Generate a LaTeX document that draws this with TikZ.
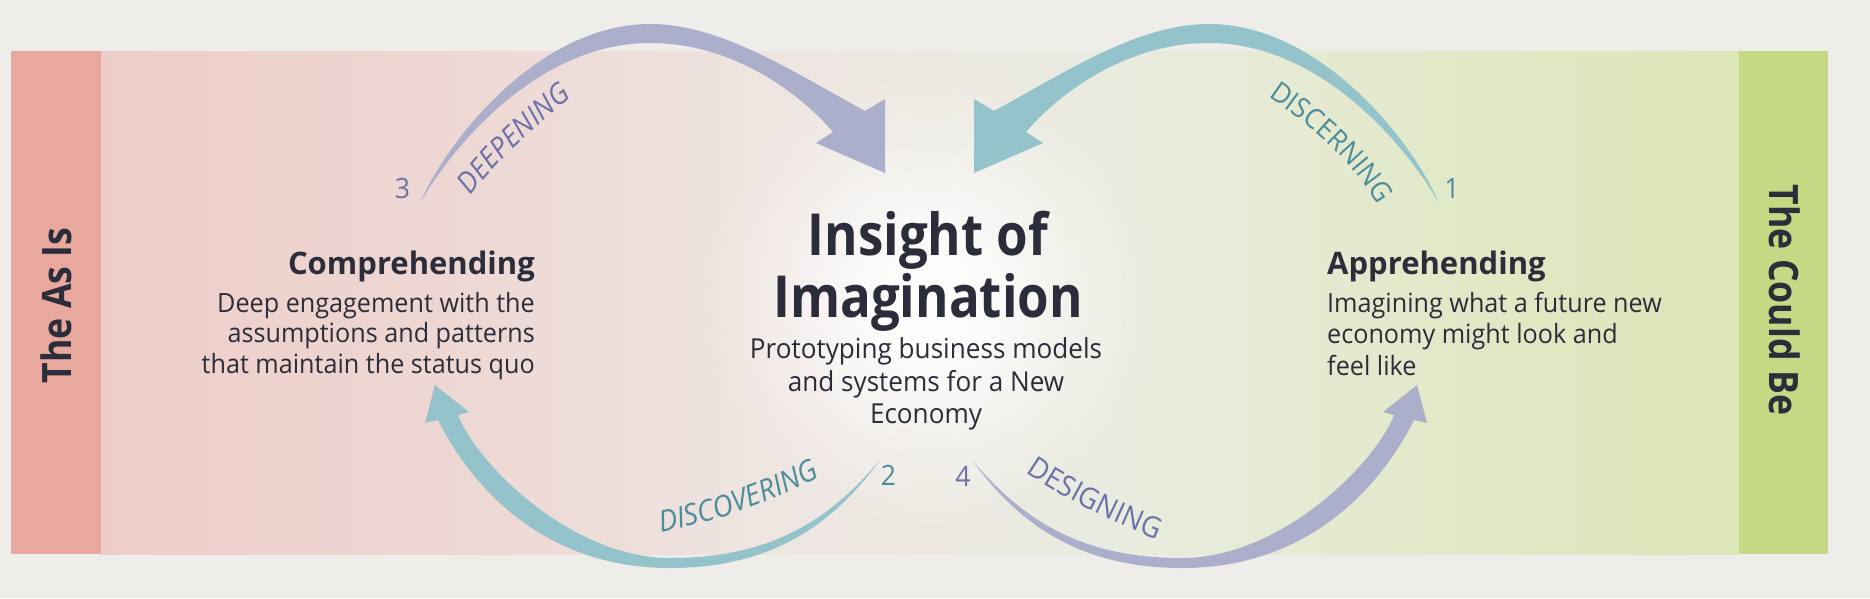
\documentclass[tikz,border=0pt]{standalone}
\usepackage{fontspec}
\setmainfont{Open Sans}[FakeStretch=0.95]
\newfontfamily\headfont{Open Sans}[FakeStretch=0.88]
\newfontfamily\titlefont{Open Sans}
\usetikzlibrary{decorations.text,fadings}

\definecolor{bgc}{HTML}{EEEDE9}
\definecolor{leftstrip}{HTML}{E8A89E}
\definecolor{rightstrip}{HTML}{C5D883}
\definecolor{bA}{HTML}{EECDC8}
\definecolor{bB}{HTML}{EED9D5}
\definecolor{bC}{HTML}{EEE6E2}
\definecolor{bD}{HTML}{EAEBE0}
\definecolor{bE}{HTML}{E3E9CB}
\definecolor{bF}{HTML}{DCE6B6}
\definecolor{purarrow}{HTML}{ABAFCC}
\definecolor{tealarrow}{HTML}{95C3CC}
\definecolor{purtext}{HTML}{6A72A9}
\definecolor{tealtext}{HTML}{4B8D9C}
\definecolor{darktext}{HTML}{2B2D3B}

\tikzfading[name=glowfade, inner color=transparent!0, outer color=transparent!100]

\newcommand\toparrowshape{%
  (420,203) .. controls (447.8,138.7) and (540,24) .. (650,24)
  .. controls (720,24) and (790,70) .. (865,111)
  -- (885,99) -- (885,173) -- (816,143) -- (833,132)
  .. controls (807.3,101.4) and (740,43) .. (650,43)
  .. controls (540,43) and (455,142.4) .. (420,203) -- cycle}
\newcommand\botarrowshape{%
  (880,460) .. controls (838.7,516.5) and (780,568) .. (670,568)
  .. controls (540,568) and (469.3,482.6) .. (438,420)
  -- (425,423) -- (435,385) -- (469,412) -- (458,415)
  .. controls (475.6,461.8) and (570,558) .. (670,558)
  .. controls (770,558) and (828.4,521.1) .. (880,460) -- cycle}
\newcommand\arclabelfont{\fontsize{29}{29}\selectfont}

\tikzset{
  stripf/.style={inner sep=0pt, text=darktext, font=\headfont\bfseries\fontsize{40.5}{40.5}\selectfont},
  bigf/.style={inner sep=0pt, text=darktext, font=\headfont\bfseries\fontsize{58}{58}\selectfont},
  titlef/.style={inner sep=0pt, text=darktext, font=\titlefont\bfseries\fontsize{31}{31}\selectfont},
  bodyf/.style={inner sep=0pt, text=darktext, font=\fontsize{26.5}{26.5}\selectfont},
  centf/.style={inner sep=0pt, text=darktext, font=\fontsize{27.5}{27.5}\selectfont},
  numf/.style={inner sep=0pt, font=\fontsize{28}{28}\selectfont},
}

\begin{document}
\begin{tikzpicture}[x=1pt, y=-1pt]
\useasboundingbox (0,0) rectangle (1870,598);
\fill[bgc] (0,0) rectangle (1870,598);

% band gradient
\shade[left color=bA, right color=bB] (100,51) rectangle (501,554);
\shade[left color=bB, right color=bC] (500,51) rectangle (801,554);
\shade[left color=bC, right color=bD] (800,51) rectangle (1101,554);
\shade[left color=bD, right color=bE] (1100,51) rectangle (1401,554);
\shade[left color=bE, right color=bF] (1400,51) rectangle (1740,554);

% side strips
\fill[leftstrip] (11,51) rectangle (101,554);
\fill[rightstrip] (1739,51) rectangle (1828,554);

% central glow
\fill[white, path fading=glowfade] (928,300) circle (230);
\fill[white, opacity=0.6, path fading=glowfade] (928,300) circle (140);

% arrows
\fill[purarrow] \toparrowshape;
\begin{scope}[shift={(1859,0)}, xscale=-1]
  \fill[tealarrow] \toparrowshape;
\end{scope}
\fill[tealarrow] \botarrowshape;
\begin{scope}[shift={(1852,0)}, xscale=-1]
  \fill[purarrow] \botarrowshape;
\end{scope}

% strip labels
\node[stripf, rotate=90, anchor=base] (asis) at (71,305.5) {The As Is};
\node[stripf, rotate=-90, anchor=base] (couldbe) at (1769.5,300) {The Could Be};

% centre
\node[bigf, anchor=base] (ins1) at (928,255) {Insight of};
\node[bigf, anchor=base] (ins2) at (928,317) {Imagination};
\node[centf, anchor=base] (cen1) at (926,358) {Prototyping business models};
\node[centf, anchor=base] (cen2) at (926,391) {and systems for a New};
\node[centf, anchor=base] (cen3) at (926,423) {Economy};

% left block
\node[titlef, anchor=base east] (comp) at (535,274) {Comprehending};
\node[bodyf, anchor=base east] (comp1) at (535,312) {Deep engagement with the};
\node[bodyf, anchor=base east] (comp2) at (535,342) {assumptions and patterns};
\node[bodyf, anchor=base east] (comp3) at (535,373) {that maintain the status quo};

% right block
\node[titlef, anchor=base west] (appr) at (1327,274) {Apprehending};
\node[bodyf, anchor=base west] (appr1) at (1327,312) {Imagining what a future new};
\node[bodyf, anchor=base west] (appr2) at (1327,343) {economy might look and};
\node[bodyf, anchor=base west] (appr3) at (1327,375) {feel like};

% numbers
\node[numf, text=purtext] (n3) at (402.5,188) {3};
\node[numf, text=tealtext] (n1) at (1452,188) {1};
\node[numf, text=tealtext] (n2) at (888.5,475) {2};
\node[numf, text=purtext] (n4) at (963,476) {4};

% curved labels
\coordinate (deepA) at (454.4,219);
\coordinate (deepB) at (594.7,79.6);
\path[decorate, decoration={text along path, text align=center,
  text={|\arclabelfont\itshape\color{purtext}|DEEPENING}}]
  (deepA) .. controls (492.6,160.3) and (539.5,122.7) .. (deepB);

\coordinate (discA) at (1249,83.4);
\coordinate (discB) at (1388.6,225.7);
\path[decorate, decoration={text along path, text align=center,
  text={|\fontsize{28}{28}\selectfont\color{tealtext}|DISCERNING}}]
  (discA) .. controls (1307.7,121.5) and (1359,162.3) .. (discB);

\coordinate (discoA) at (636.3,536.5);
\coordinate (discoB) at (841.2,463.8);
\path[decorate, decoration={text along path, text align=center,
  text={|\fontsize{29.5}{29.5}\selectfont\itshape\color{tealtext}|DISCOVERING}}]
  (discoA) .. controls (705.6,526.8) and (781.8,500.9) .. (discoB);

\coordinate (desA) at (1010,461);
\coordinate (desB) at (1175.5,546.6);
\path[decorate, decoration={text along path, text align=center,
  text={|\arclabelfont\color{purtext}|DESIGNING}}]
  (desA) .. controls (1058,497.1) and (1119.1,526.1) .. (desB);
\end{tikzpicture}
\end{document}
